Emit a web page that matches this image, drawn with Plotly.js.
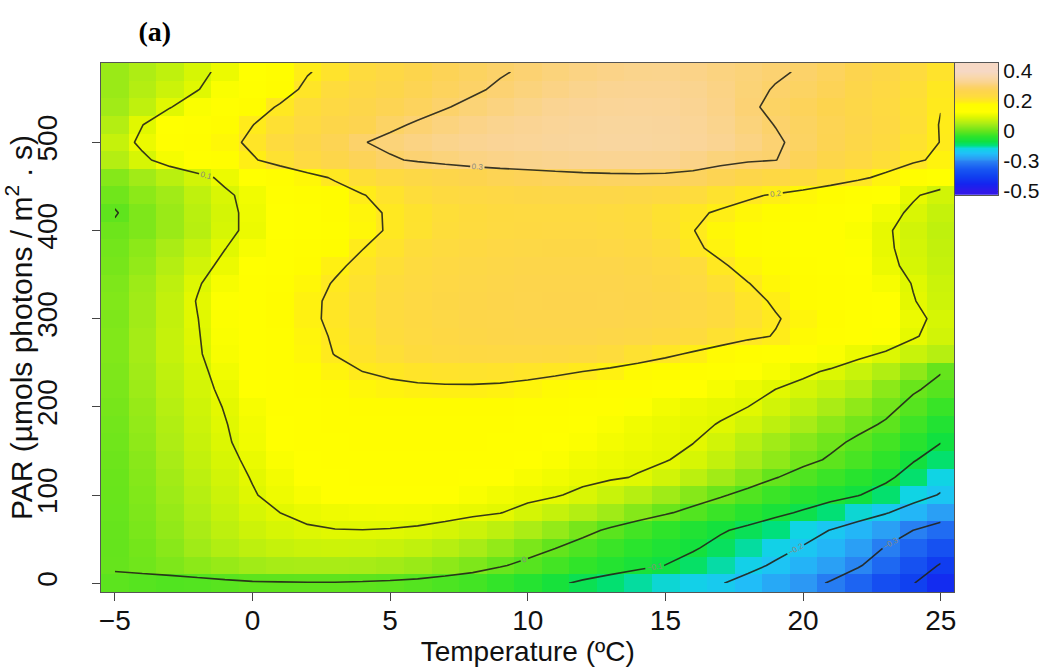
<!DOCTYPE html>
<html>
<head>
<meta charset="utf-8">
<script src="https://cdn.plot.ly/plotly-3.0.1.min.js"></script>
<style>
  html, body { margin: 0; padding: 0; background: #ffffff; }
  #chart { width: 1046px; height: 668px; }
</style>
</head>
<body>
<div id="chart"></div>
<script>
// ---------- DATA ----------
const temperature = [-5,-4,-3,-2,-1,0,1,2,3,4,5,6,7,8,9,10,11,12,13,14,15,16,17,18,19,20,21,22,23,24,25];
const par = [0,20,40,60,80,100,120,140,160,180,200,220,240,260,280,300,320,340,360,380,400,420,440,460,480,500,520,540,560,580];

// one array per PAR row, values for temperature -5 ... 25
const z_par000 = [-0.006,-0.012,-0.016,-0.014,-0.0095,-0.005,-0.004,-0.003,-0.003,-0.005,-0.008,-0.013,-0.021,-0.03,-0.045,-0.065,-0.088,-0.112,-0.132,-0.15,-0.165,-0.18,-0.196,-0.225,-0.255,-0.28,-0.305,-0.335,-0.37,-0.398,-0.435];
const z_par020 = [0.003,0.01,0.02,0.03,0.038,0.045,0.049,0.051,0.051,0.049,0.046,0.04,0.031,0.02,0.004,-0.012,-0.03,-0.048,-0.066,-0.084,-0.101,-0.125,-0.152,-0.18,-0.21,-0.24,-0.268,-0.295,-0.33,-0.365,-0.405];
const z_par040 = [0.002,0.013,0.028,0.044,0.058,0.068,0.075,0.079,0.081,0.08,0.077,0.071,0.062,0.05,0.035,0.018,0.001,-0.02,-0.038,-0.056,-0.075,-0.093,-0.12,-0.15,-0.177,-0.205,-0.235,-0.27,-0.303,-0.335,-0.365];
const z_par060 = [0.003,0.017,0.034,0.052,0.068,0.081,0.09,0.096,0.099,0.0995,0.098,0.095,0.089,0.08,0.068,0.053,0.036,0.015,-0.008,-0.03,-0.05,-0.072,-0.093,-0.115,-0.14,-0.17,-0.202,-0.235,-0.268,-0.3,-0.325];
const z_par080 = [0.004,0.02,0.038,0.057,0.074,0.09,0.1,0.108,0.113,0.116,0.117,0.115,0.111,0.106,0.101,0.088,0.075,0.06,0.044,0.025,0.006,-0.015,-0.038,-0.062,-0.085,-0.108,-0.135,-0.165,-0.195,-0.235,-0.27];
const z_par100 = [0.005,0.022,0.042,0.062,0.08,0.097,0.112,0.123,0.131,0.135,0.136,0.134,0.13,0.124,0.117,0.11,0.103,0.092,0.078,0.062,0.044,0.026,0.006,-0.016,-0.038,-0.058,-0.078,-0.097,-0.13,-0.17,-0.205];
const z_par120 = [0.006,0.025,0.046,0.067,0.085,0.102,0.118,0.13,0.138,0.143,0.145,0.144,0.141,0.136,0.13,0.123,0.116,0.109,0.104,0.098,0.085,0.066,0.046,0.026,0.002,-0.018,-0.038,-0.06,-0.085,-0.13,-0.17];
const z_par140 = [0.008,0.028,0.05,0.072,0.09,0.108,0.125,0.138,0.147,0.153,0.155,0.155,0.153,0.148,0.142,0.134,0.126,0.118,0.111,0.106,0.102,0.09,0.072,0.052,0.032,0.012,-0.005,-0.025,-0.05,-0.095,-0.13];
const z_par160 = [0.01,0.032,0.055,0.077,0.095,0.115,0.132,0.145,0.155,0.16,0.162,0.162,0.16,0.156,0.15,0.143,0.135,0.127,0.119,0.112,0.106,0.101,0.085,0.065,0.045,0.027,0.01,-0.008,-0.03,-0.06,-0.098];
const z_par180 = [0.012,0.035,0.058,0.08,0.098,0.118,0.135,0.148,0.158,0.164,0.167,0.168,0.167,0.164,0.159,0.152,0.144,0.135,0.125,0.116,0.109,0.104,0.099,0.085,0.068,0.05,0.03,0.012,-0.005,-0.035,-0.07];
const z_par200 = [0.015,0.038,0.062,0.083,0.102,0.122,0.14,0.155,0.165,0.172,0.176,0.178,0.178,0.176,0.172,0.166,0.158,0.149,0.139,0.128,0.118,0.11,0.104,0.1,0.085,0.07,0.052,0.033,0.012,-0.012,-0.04];
const z_par220 = [0.018,0.042,0.066,0.087,0.108,0.13,0.15,0.166,0.178,0.186,0.19,0.193,0.194,0.194,0.192,0.188,0.182,0.175,0.166,0.156,0.145,0.133,0.121,0.11,0.1,0.088,0.074,0.058,0.03,0.005,-0.012];
const z_par240 = [0.02,0.045,0.07,0.09,0.115,0.14,0.16,0.177,0.19,0.2,0.207,0.212,0.215,0.216,0.215,0.211,0.206,0.2,0.192,0.182,0.172,0.16,0.148,0.135,0.122,0.108,0.095,0.078,0.058,0.032,0.002];
const z_par260 = [0.022,0.048,0.075,0.095,0.123,0.148,0.168,0.186,0.201,0.214,0.224,0.233,0.24,0.244,0.246,0.246,0.244,0.238,0.23,0.22,0.208,0.195,0.182,0.168,0.155,0.14,0.125,0.11,0.095,0.078,0.062];
const z_par280 = [0.022,0.048,0.075,0.097,0.125,0.15,0.17,0.188,0.204,0.218,0.23,0.24,0.248,0.254,0.258,0.26,0.261,0.26,0.257,0.252,0.244,0.233,0.22,0.208,0.198,0.182,0.165,0.148,0.128,0.104,0.085];
const z_par300 = [0.02,0.045,0.072,0.099,0.127,0.152,0.173,0.192,0.208,0.222,0.234,0.244,0.252,0.258,0.262,0.265,0.266,0.266,0.265,0.262,0.256,0.247,0.235,0.22,0.203,0.188,0.172,0.155,0.135,0.11,0.09];
const z_par320 = [0.022,0.045,0.072,0.102,0.128,0.152,0.172,0.191,0.208,0.222,0.235,0.245,0.253,0.259,0.264,0.267,0.268,0.268,0.267,0.264,0.258,0.248,0.233,0.212,0.195,0.18,0.166,0.15,0.13,0.102,0.082];
const z_par340 = [0.02,0.042,0.068,0.096,0.122,0.145,0.165,0.185,0.203,0.218,0.231,0.242,0.25,0.257,0.262,0.265,0.266,0.266,0.265,0.261,0.253,0.24,0.222,0.201,0.185,0.172,0.158,0.142,0.122,0.098,0.08];
const z_par360 = [0.015,0.035,0.06,0.085,0.11,0.133,0.155,0.175,0.193,0.21,0.224,0.236,0.245,0.252,0.257,0.26,0.262,0.262,0.26,0.255,0.245,0.23,0.205,0.188,0.175,0.162,0.148,0.132,0.11,0.09,0.075];
const z_par380 = [0.012,0.03,0.052,0.075,0.099,0.122,0.142,0.162,0.18,0.199,0.215,0.228,0.237,0.244,0.249,0.252,0.253,0.253,0.25,0.243,0.23,0.207,0.19,0.178,0.167,0.155,0.143,0.128,0.106,0.087,0.072];
const z_par400 = [0.008,0.02,0.04,0.063,0.09,0.11,0.13,0.15,0.168,0.186,0.205,0.218,0.228,0.235,0.24,0.243,0.245,0.245,0.242,0.235,0.222,0.201,0.185,0.173,0.163,0.152,0.14,0.125,0.105,0.085,0.07];
const z_par420 = [-0.003,0.02,0.04,0.065,0.088,0.112,0.135,0.155,0.172,0.188,0.205,0.217,0.226,0.233,0.238,0.241,0.242,0.241,0.237,0.23,0.22,0.207,0.195,0.185,0.175,0.165,0.152,0.135,0.115,0.092,0.075];
const z_par440 = [0.01,0.03,0.045,0.07,0.092,0.115,0.14,0.16,0.18,0.198,0.215,0.228,0.238,0.245,0.25,0.254,0.256,0.257,0.256,0.252,0.245,0.232,0.218,0.206,0.196,0.185,0.172,0.155,0.13,0.105,0.085];
const z_par460 = [0.025,0.045,0.065,0.085,0.11,0.135,0.16,0.185,0.205,0.225,0.24,0.252,0.262,0.27,0.276,0.28,0.284,0.288,0.29,0.291,0.29,0.286,0.275,0.262,0.248,0.235,0.222,0.208,0.19,0.16,0.13];
const z_par480 = [0.06,0.09,0.12,0.145,0.17,0.195,0.22,0.24,0.26,0.28,0.295,0.305,0.312,0.318,0.322,0.325,0.328,0.33,0.332,0.332,0.33,0.322,0.312,0.305,0.301,0.28,0.262,0.243,0.225,0.208,0.19];
const z_par500 = [0.075,0.11,0.14,0.162,0.185,0.21,0.235,0.255,0.275,0.298,0.31,0.318,0.325,0.33,0.335,0.338,0.342,0.345,0.347,0.347,0.345,0.34,0.33,0.318,0.305,0.29,0.274,0.256,0.238,0.218,0.199];
const z_par520 = [0.06,0.099,0.13,0.155,0.178,0.199,0.222,0.24,0.258,0.272,0.292,0.305,0.314,0.322,0.328,0.333,0.338,0.342,0.345,0.345,0.343,0.337,0.326,0.312,0.299,0.288,0.275,0.26,0.243,0.223,0.198];
const z_par540 = [0.045,0.07,0.098,0.125,0.15,0.18,0.205,0.228,0.245,0.26,0.275,0.285,0.298,0.308,0.316,0.323,0.33,0.335,0.338,0.34,0.338,0.332,0.322,0.306,0.292,0.282,0.27,0.256,0.24,0.222,0.201];
const z_par560 = [0.04,0.06,0.08,0.098,0.125,0.15,0.18,0.21,0.23,0.248,0.262,0.275,0.285,0.295,0.305,0.313,0.32,0.326,0.33,0.332,0.332,0.328,0.32,0.308,0.298,0.29,0.278,0.262,0.245,0.225,0.205];
const z_par580 = [0.04,0.055,0.07,0.09,0.11,0.135,0.16,0.197,0.215,0.235,0.25,0.265,0.278,0.288,0.297,0.305,0.312,0.318,0.322,0.325,0.326,0.322,0.316,0.31,0.304,0.297,0.285,0.27,0.255,0.235,0.215];

const zRows = [z_par000,z_par020,z_par040,z_par060,z_par080,z_par100,z_par120,z_par140,z_par160,z_par180,
               z_par200,z_par220,z_par240,z_par260,z_par280,z_par300,z_par320,z_par340,z_par360,z_par380,
               z_par400,z_par420,z_par440,z_par460,z_par480,z_par500,z_par520,z_par540,z_par560,z_par580];

// colour key (legend bar) levels and labels
const keyLevels = [-0.5, -0.3, 0, 0.2, 0.4];
const keyLabels = ['-0.5', '-0.3', '0', '0.2', '0.4'];

// contour levels
const contourStart = -0.4, contourEnd = 0.3, contourStep = 0.1;

// ---------- COLOUR SCALE ----------
const zMin = -0.5, zMax = 0.4;
const csValues = [-0.5, -0.45, -0.4, -0.35, -0.3, -0.28, -0.22, -0.17, -0.14, -0.1, -0.05, 0, 0.05, 0.1, 0.13, 0.18, 0.2, 0.23, 0.27, 0.3, 0.33, 0.37, 0.4];
const csColors = ['#3018e8','#1424f0','#1040f0','#1858f2','#2880f2','#2c98f4','#20c0f8','#10d4e4','#00e07c','#10e040','#2ee42a','#62e41c','#a8ec16','#e2f800','#ffff00','#fffc00','#ffea1c','#fedc3c','#fdd44e','#fcd26c','#fad492','#f8d8b0','#f6d8c4'];
const colorscale = csValues.map((v, i) => [(v - zMin) / (zMax - zMin), csColors[i]]);

const FONT = 'Liberation Sans, Arial, sans-serif';

const heat = {
  type: 'heatmap',
  x: temperature, y: par, z: zRows,
  zmin: zMin, zmax: zMax, colorscale: colorscale,
  zsmooth: false, showscale: false, hoverinfo: 'skip',
  xaxis: 'x', yaxis: 'y'
};

const cont = {
  type: 'contour',
  x: temperature, y: par, z: zRows,
  contours: { coloring: 'none', start: contourStart, end: contourEnd, size: contourStep,
              showlabels: true, labelfont: { family: FONT, size: 8, color: '#8a8a7a' } },
  line: { color: 'rgba(35,35,25,0.9)', width: 1.6, smoothing: 0 },
  showscale: false, hoverinfo: 'skip',
  xaxis: 'x', yaxis: 'y'
};

// colour key drawn as a smooth heatmap of the key levels
const keyPos = keyLevels.map((v, i) => i);
const key = {
  type: 'heatmap',
  x: [0, 1], y: keyPos, z: keyLevels.map(v => [v, v]),
  zmin: zMin, zmax: zMax, colorscale: colorscale,
  zsmooth: 'best', showscale: false, hoverinfo: 'skip',
  xaxis: 'x2', yaxis: 'y2'
};

const layout = {
  width: 1046, height: 668,
  margin: { l: 101, r: 48, t: 63, b: 76, pad: 0 },
  paper_bgcolor: '#ffffff', plot_bgcolor: '#ffffff',
  showlegend: false,
  font: { family: FONT, color: '#111' },
  title: { text: '<b>(a)</b>', font: { family: 'Liberation Serif, Times New Roman, serif', size: 28, color: '#000' },
           x: 0.148, xref: 'container', xanchor: 'center', y: 0.953, yref: 'container', yanchor: 'middle' },
  xaxis: {
    domain: [0, 0.9515], range: [-5.5, 25.5], tickvals: [-5, 0, 5, 10, 15, 20, 25],
    ticks: 'outside', ticklen: 8, tickcolor: '#444', tickwidth: 1, ticklabelstandoff: -5,
    showline: true, mirror: true, linecolor: '#555', linewidth: 1,
    showgrid: false, zeroline: false, automargin: false,
    tickfont: { family: FONT, size: 28, color: '#111' },
    title: { text: 'Temperature (ºC)', font: { family: FONT, size: 28, color: '#111' }, standoff: 4 }
  },
  yaxis: {
    domain: [0, 1], range: [-10, 590], tickvals: [0, 100, 200, 300, 400, 500], tickangle: -90,
    ticks: 'outside', ticklen: 8, tickcolor: '#444', tickwidth: 1, ticklabelstandoff: 24,
    showline: true, mirror: true, linecolor: '#555', linewidth: 1,
    showgrid: false, zeroline: false, automargin: false,
    tickfont: { family: FONT, size: 28, color: '#111' },
    title: { text: 'PAR (µmols photons / m<sup>2</sup> . s)', font: { family: FONT, size: 30, color: '#111' }, standoff: 0 }
  },
  xaxis2: {
    domain: [0.952, 1], anchor: 'y2', range: [0, 1],
    showticklabels: false, ticks: '', showgrid: false, zeroline: false,
    showline: true, mirror: true, linecolor: '#555', linewidth: 1, fixedrange: true
  },
  yaxis2: {
    domain: [0.751, 1], anchor: 'x2', side: 'right', range: [-0.12, 4.25],
    tickvals: keyPos, ticktext: keyLabels, ticks: '',
    showgrid: true, gridcolor: '#333', gridwidth: 1, zeroline: false,
    showline: true, mirror: true, linecolor: '#555', linewidth: 1,
    tickfont: { family: FONT, size: 21, color: '#111' }, fixedrange: true
  }
};

Plotly.newPlot('chart', [heat, cont, key], layout, { staticPlot: true, displayModeBar: false });
</script>
</body>
</html>
